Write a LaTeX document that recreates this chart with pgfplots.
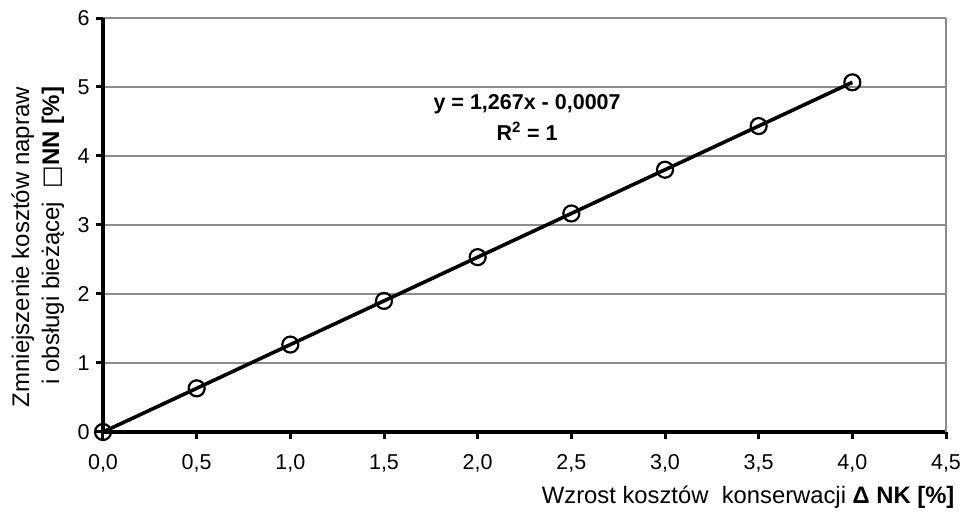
\documentclass[border=0pt]{standalone}
\usepackage{pgfplots}
\pgfplotsset{compat=1.18}
\usepackage{fontspec}
\setmainfont{Liberation Sans}
\newfontfamily\dejavu{DejaVu Sans}
\begin{document}
\begin{tikzpicture}[x=1pt,y=1pt]
\useasboundingbox (0,0) rectangle (967,516);
\begin{axis}[
  at={(103pt,84pt)}, anchor=south west,
  scale only axis, width=843pt, height=414pt,
  xmin=0, xmax=4.5, ymin=0, ymax=6,
  xtick={0,0.5,...,4.5}, ytick={0,1,...,6},
  axis x line*=bottom, axis y line*=left,
  axis line style={black, line width=3.6pt},
  tick align=outside, major tick length=7pt,
  every tick/.style={black, line width=3pt},
  ymajorgrids, grid style={gray!90, line width=1.1pt},
  clip=false,
  tick label style={font=\fontsize{21.5}{23}\selectfont},
  /pgf/number format/assume math mode=true,
  x tick label style={/pgf/number format/use comma, /pgf/number format/fixed, /pgf/number format/fixed zerofill, /pgf/number format/precision=1, yshift=-12pt},
  y tick label style={xshift=-3pt},
  xlabel={Wzrost kosztów\ \ konserwacji \textbf{Δ NK [\%]}},
  xlabel style={at={(rel axis cs:1.0142,-0.157)}, anchor=east, font=\fontsize{23.8}{25}\selectfont},
  ylabel={Zmniejszenie kosztów napraw\\i obsługi bieżącej\ \ {\dejavu □}\textbf{NN [\%]}},
  ylabel style={at={(rel axis cs:-0.0775,0.842)}, anchor=east, align=right, font=\fontsize{24}{30}\selectfont},
]
\addplot[black, line width=3.6pt, mark=o, mark size=8pt,
  mark options={line width=2.2pt, fill=none}]
  coordinates {(0,0) (0.5,0.633) (1,1.267) (1.5,1.900) (2,2.534)
               (2.5,3.167) (3,3.801) (3.5,4.434) (4,5.068)};
\draw[gray!90, line width=1.1pt] (rel axis cs:1,0) -- (rel axis cs:1,1);
\node[align=center, font=\bfseries\fontsize{21.5}{31}\selectfont] at (axis cs:2.264,4.56)
  {y = 1,267x - 0,0007\\R\textsuperscript{2} = 1};
\end{axis}
\end{tikzpicture}
\end{document}
